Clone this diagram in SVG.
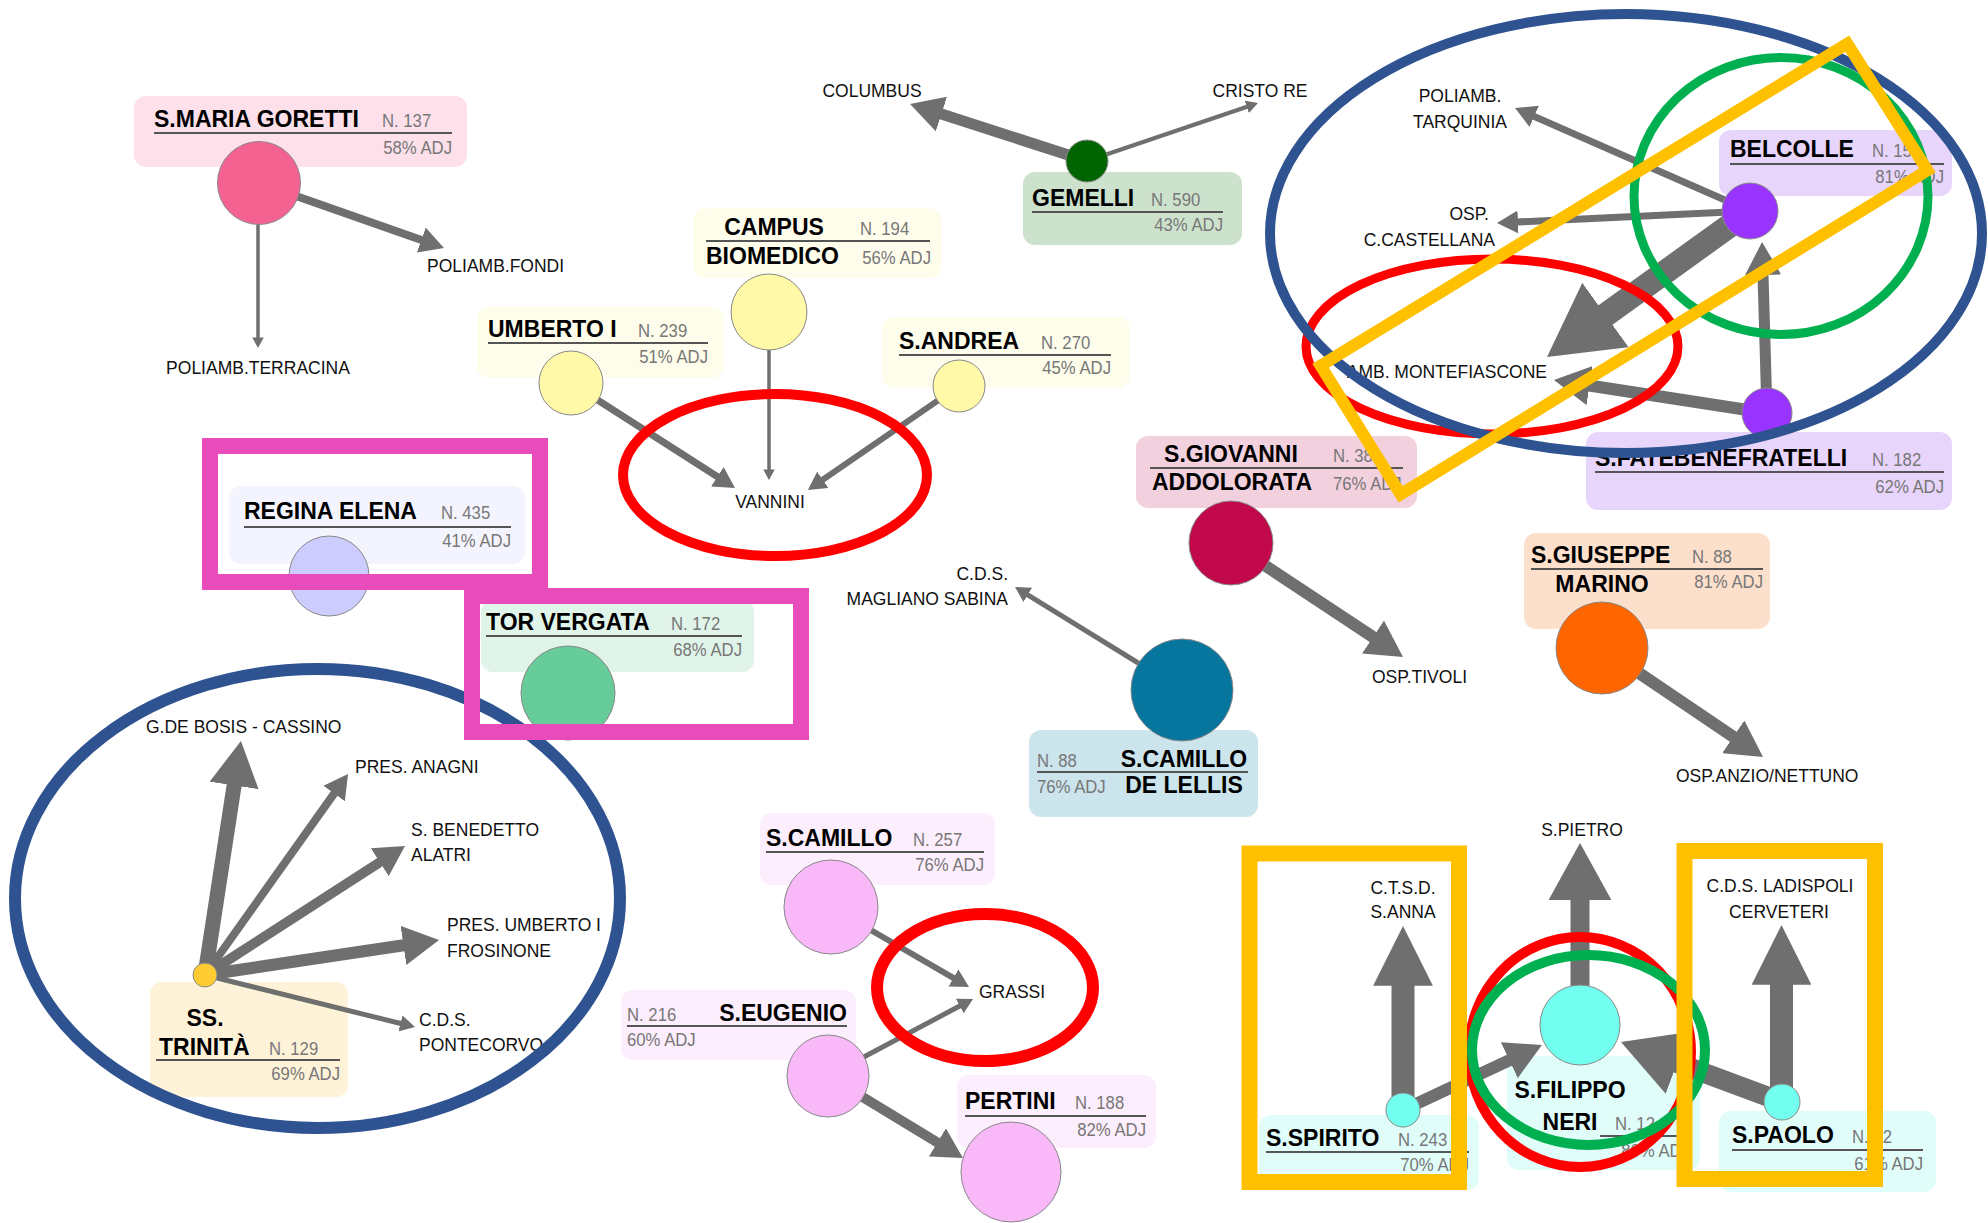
<svg xmlns="http://www.w3.org/2000/svg" width="1988" height="1223" viewBox="0 0 1988 1223">
<style>
.t{font-family:"Liberation Sans",Arial,sans-serif;font-weight:bold;font-size:23px;fill:#000}
.s{font-family:"Liberation Sans",Arial,sans-serif;font-size:19px;fill:#777;transform:scaleX(0.88);transform-box:fill-box;transform-origin:0% 50%}
.s.e{transform-origin:100% 50%}
.d{font-family:"Liberation Sans",Arial,sans-serif;font-size:17.5px;fill:#111}
.m{text-anchor:middle}
.e{text-anchor:end}
.ul{stroke:#555;stroke-width:2}
.nd{stroke:#888;stroke-width:1}
.c{stroke:#6f6f6f;fill:none;marker-end:url(#ah)}
.cb{stroke:#6f6f6f;fill:none;marker-end:url(#ahb)}
.hl{fill:none}
</style>
<defs>
<marker id="ah" viewBox="0 0 10 10" refX="1" refY="5" markerWidth="3" markerHeight="3.3" markerUnits="strokeWidth" orient="auto" preserveAspectRatio="none"><path d="M0,0 L10,5 L0,10 z" fill="#6f6f6f"/></marker>
<marker id="ahb" viewBox="0 0 10 10" refX="1" refY="5" markerWidth="2.6" markerHeight="2.6" markerUnits="strokeWidth" orient="auto" preserveAspectRatio="none"><path d="M0,0 L10,5 L0,10 z" fill="#6f6f6f"/></marker>
</defs>
<rect width="1988" height="1223" fill="#fff"/>

<g id="label-backgrounds">
<rect id="bg-goretti" x="134" y="96" width="333" height="71" rx="12" fill="#fde0ea"/>
<rect id="bg-umberto" x="477" y="307" width="247" height="71" rx="12" fill="#fefdec"/>
<rect id="bg-campus" x="693" y="208" width="248" height="70" rx="12" fill="#fefdec"/>
<rect id="bg-andrea" x="882" y="317" width="248" height="71" rx="12" fill="#fefdec"/>
<rect id="bg-gemelli" x="1023" y="172" width="219" height="73" rx="12" fill="#cde2cd"/>
<rect id="bg-belcolle" x="1719" y="130" width="233" height="66" rx="12" fill="#e8d5fc"/>
<rect id="bg-fatebene" x="1586" y="432" width="366" height="78" rx="12" fill="#e8d5fc"/>
<rect id="bg-regina" x="229" y="486" width="296" height="78" rx="12" fill="#f4f4fe"/>
<rect id="bg-torvergata" x="481" y="600" width="273" height="72" rx="12" fill="#e0f4ea"/>
<rect id="bg-giovanni" x="1136" y="436" width="281" height="72" rx="12" fill="#f2d0dd"/>
<rect id="bg-delellis" x="1029" y="730" width="229" height="87" rx="12" fill="#cce4ec"/>
<rect id="bg-giuseppe" x="1524" y="533" width="246" height="96" rx="12" fill="#fde0cc"/>
<rect id="bg-trinita" x="150" y="982" width="198" height="115" rx="12" fill="#fef3d8"/>
<rect id="bg-scamillo" x="760" y="813" width="235" height="72" rx="12" fill="#fdeefd"/>
<rect id="bg-eugenio" x="621" y="990" width="235" height="70" rx="12" fill="#fdeefd"/>
<rect id="bg-pertini" x="957" y="1075" width="199" height="73" rx="12" fill="#fdeefd"/>
<rect id="bg-filippo" x="1507" y="1056" width="193" height="114" rx="12" fill="#e0fdfa"/>
<rect id="bg-spirito" x="1259" y="1115" width="220" height="75" rx="12" fill="#e0fdfa"/>
<rect id="bg-paolo" x="1719" y="1111" width="217" height="81" rx="12" fill="#e0fdfa"/>
</g>

<g id="connectors">
<line class="c" x1="259" y1="183" x2="423.6" y2="240.8" stroke-width="8"/>
<line class="c" x1="258" y1="183" x2="258" y2="338.5" stroke-width="3.5"/>
<line class="c" x1="1087" y1="161" x2="938.3" y2="113.1" stroke-width="11"/>
<line class="c" x1="1087" y1="161" x2="1247.8" y2="106.5" stroke-width="4"/>
<line class="c" x1="571" y1="383" x2="719.1" y2="477.8" stroke-width="7"/>
<line class="c" x1="769" y1="312" x2="769" y2="470.5" stroke-width="3.5"/>
<line class="c" x1="959" y1="386" x2="821.3" y2="480.8" stroke-width="6"/>
<line class="c" x1="1750" y1="211" x2="1532.3" y2="115.6" stroke-width="7"/>
<line class="c" x1="1750" y1="211" x2="1515.9" y2="222.1" stroke-width="7"/>
<line class="c" x1="1750" y1="211" x2="1599.6" y2="319.2" stroke-width="24"/>
<line class="c" x1="1767" y1="413" x2="1586" y2="385" stroke-width="12"/>
<line class="c" x1="1767" y1="413" x2="1762.9" y2="271.7" stroke-width="11"/>
<line class="c" x1="1231" y1="543" x2="1376" y2="639.1" stroke-width="12"/>
<line class="c" x1="1602" y1="648" x2="1736.2" y2="738.8" stroke-width="12"/>
<line class="c" x1="1182" y1="690" x2="1026.5" y2="594.1" stroke-width="5"/>
<line class="c" x1="205" y1="975" x2="234.8" y2="781" stroke-width="15"/>
<line class="c" x1="205" y1="975" x2="335.5" y2="791.6" stroke-width="8"/>
<line class="c" x1="205" y1="975" x2="382.3" y2="860.6" stroke-width="10"/>
<line class="c" x1="205" y1="975" x2="407" y2="944.8" stroke-width="12"/>
<line class="c" x1="205" y1="975" x2="401.9" y2="1023.8" stroke-width="5"/>
<line class="c" x1="831" y1="907" x2="955" y2="978.9" stroke-width="6"/>
<line class="c" x1="828" y1="1076" x2="961.1" y2="1005.3" stroke-width="5"/>
<line class="c" x1="828" y1="1076" x2="939.9" y2="1144" stroke-width="10"/>
<line class="c" x1="1580" y1="1025" x2="1580" y2="894.3" stroke-width="19"/>
<line class="cb" x1="1403" y1="1110" x2="1403" y2="979.8" stroke-width="23"/>
<line class="c" x1="1403" y1="1110" x2="1512.6" y2="1058.7" stroke-width="12"/>
<line class="cb" x1="1781.5" y1="1102" x2="1781.5" y2="978.8" stroke-width="23"/>
<line class="c" x1="1782" y1="1102" x2="1671.6" y2="1060.8" stroke-width="20"/>
</g>

<g id="destinations">
<text class="d" x="427" y="272">POLIAMB.FONDI</text>
<text class="d m" x="258" y="374">POLIAMB.TERRACINA</text>
<text class="d m" x="872" y="97">COLUMBUS</text>
<text class="d m" x="1260" y="97">CRISTO RE</text>
<text class="d m" x="770" y="508">VANNINI</text>
<text class="d m" x="1460" y="102">POLIAMB.</text>
<text class="d m" x="1460" y="128">TARQUINIA</text>
<text class="d e" x="1489" y="220">OSP.</text>
<text class="d e" x="1495" y="246">C.CASTELLANA</text>
<text class="d e" x="1547" y="378">AMB. MONTEFIASCONE</text>
<text class="d" x="1372" y="683">OSP.TIVOLI</text>
<text class="d e" x="1008" y="580">C.D.S.</text>
<text class="d e" x="1008" y="605">MAGLIANO SABINA</text>
<text class="d" x="1676" y="782">OSP.ANZIO/NETTUNO</text>
<text class="d" x="146" y="733">G.DE BOSIS - CASSINO</text>
<text class="d" x="355" y="773">PRES. ANAGNI</text>
<text class="d" x="411" y="836">S. BENEDETTO</text>
<text class="d" x="411" y="861">ALATRI</text>
<text class="d" x="447" y="931">PRES. UMBERTO I</text>
<text class="d" x="447" y="957">FROSINONE</text>
<text class="d" x="419" y="1026">C.D.S.</text>
<text class="d" x="419" y="1051">PONTECORVO</text>
<text class="d" x="979" y="998">GRASSI</text>
<text class="d m" x="1582" y="836">S.PIETRO</text>
<text class="d m" x="1403" y="894">C.T.S.D.</text>
<text class="d m" x="1403" y="918">S.ANNA</text>
<text class="d m" x="1780" y="892">C.D.S. LADISPOLI</text>
<text class="d m" x="1779" y="918">CERVETERI</text>
</g>

<g id="node-goretti">
<circle class="nd" cx="259" cy="183" r="41.5" fill="#f46291"/>
<text class="t" x="154" y="127">S.MARIA GORETTI</text>
<text class="s" x="382" y="127">N. 137</text>
<line class="ul" x1="154" y1="133" x2="452" y2="133"/>
<text class="s e" x="452" y="154">58% ADJ</text>
</g>

<g id="node-umberto">
<circle class="nd" cx="571" cy="383" r="32" fill="#fff9a8"/>
<text class="t" x="488" y="337">UMBERTO I</text>
<text class="s" x="638" y="337">N. 239</text>
<line class="ul" x1="488" y1="343" x2="708" y2="343"/>
<text class="s e" x="708" y="363">51% ADJ</text>
</g>

<g id="node-campus">
<circle class="nd" cx="769" cy="312" r="38" fill="#fff9a8"/>
<text class="t m" x="774" y="235">CAMPUS</text>
<text class="t" x="706" y="264">BIOMEDICO</text>
<text class="s" x="860" y="235">N. 194</text>
<line class="ul" x1="706" y1="241" x2="930" y2="241"/>
<text class="s e" x="931" y="264">56% ADJ</text>
</g>

<g id="node-andrea">
<circle class="nd" cx="959" cy="386" r="26" fill="#fff9a8"/>
<text class="t" x="899" y="349">S.ANDREA</text>
<text class="s" x="1041" y="349">N. 270</text>
<line class="ul" x1="899" y1="355" x2="1111" y2="355"/>
<text class="s e" x="1111" y="374">45% ADJ</text>
</g>

<g id="node-gemelli">
<circle class="nd" cx="1087" cy="161" r="21" fill="#006400"/>
<text class="t" x="1032" y="206">GEMELLI</text>
<text class="s" x="1151" y="206">N. 590</text>
<line class="ul" x1="1032" y1="212" x2="1223" y2="212"/>
<text class="s e" x="1223" y="231">43% ADJ</text>
</g>

<g id="node-belcolle">
<circle class="nd" cx="1750" cy="211" r="28" fill="#9933ff"/>
<text class="t" x="1730" y="157">BELCOLLE</text>
<text class="s" x="1872" y="157">N. 15</text>
<line class="ul" x1="1730" y1="164" x2="1944" y2="164"/>
<text class="s e" x="1944" y="183">81% ADJ</text>
</g>

<g id="node-fatebenefratelli">
<circle class="nd" cx="1767" cy="413" r="25" fill="#9933ff"/>
<text class="t" x="1595" y="466">S.FATEBENEFRATELLI</text>
<text class="s" x="1872" y="466">N. 182</text>
<line class="ul" x1="1595" y1="472" x2="1944" y2="472"/>
<text class="s e" x="1944" y="493">62% ADJ</text>
</g>

<g id="node-regina">
<circle class="nd" cx="329" cy="576" r="40" fill="#ccccff"/>
<text class="t" x="244" y="519">REGINA ELENA</text>
<text class="s" x="441" y="519">N. 435</text>
<line class="ul" x1="244" y1="527" x2="511" y2="527"/>
<text class="s e" x="511" y="547">41% ADJ</text>
</g>

<g id="node-torvergata">
<circle class="nd" cx="568" cy="693" r="47" fill="#66cc99"/>
<text class="t" x="486" y="630">TOR VERGATA</text>
<text class="s" x="671" y="630">N. 172</text>
<line class="ul" x1="486" y1="636" x2="742" y2="636"/>
<text class="s e" x="742" y="656">68% ADJ</text>
</g>

<g id="node-giovanni">
<circle class="nd" cx="1231" cy="543" r="42" fill="#c0084a"/>
<text class="t m" x="1231" y="462">S.GIOVANNI</text>
<text class="t m" x="1232" y="490">ADDOLORATA</text>
<text class="s" x="1333" y="462">N. 38</text>
<line class="ul" x1="1150" y1="468" x2="1403" y2="468"/>
<text class="s" x="1333" y="490">76% ADJ</text>
</g>

<g id="node-delellis">
<circle class="nd" cx="1182" cy="690" r="51" fill="#07769e"/>
<text class="s" x="1037" y="767">N. 88</text>
<text class="t m" x="1184" y="767">S.CAMILLO</text>
<line class="ul" x1="1037" y1="772" x2="1248" y2="772"/>
<text class="s" x="1037" y="793">76% ADJ</text>
<text class="t m" x="1184" y="793">DE LELLIS</text>
</g>

<g id="node-giuseppe">
<circle class="nd" cx="1602" cy="648" r="46" fill="#ff6600"/>
<text class="t" x="1531" y="563">S.GIUSEPPE</text>
<text class="t m" x="1602" y="592">MARINO</text>
<text class="s" x="1692" y="563">N. 88</text>
<line class="ul" x1="1531" y1="569" x2="1763" y2="569"/>
<text class="s e" x="1763" y="588">81% ADJ</text>
</g>

<g id="node-trinita">
<circle class="nd" cx="205" cy="975" r="12" fill="#ffcc33"/>
<text class="t m" x="205" y="1026">SS.</text>
<text class="t" x="159" y="1055">TRINITÀ</text>
<text class="s" x="269" y="1055">N. 129</text>
<line class="ul" x1="156" y1="1060" x2="340" y2="1060"/>
<text class="s e" x="340" y="1080">69% ADJ</text>
</g>

<g id="node-scamillo">
<circle class="nd" cx="831" cy="907" r="47" fill="#f9b9f9"/>
<text class="t" x="766" y="846">S.CAMILLO</text>
<text class="s" x="913" y="846">N. 257</text>
<line class="ul" x1="766" y1="852" x2="984" y2="852"/>
<text class="s e" x="984" y="871">76% ADJ</text>
</g>

<g id="node-eugenio">
<circle class="nd" cx="828" cy="1076" r="41" fill="#f9b9f9"/>
<text class="s" x="627" y="1021">N. 216</text>
<text class="t e" x="847" y="1021">S.EUGENIO</text>
<line class="ul" x1="627" y1="1026" x2="847" y2="1026"/>
<text class="s" x="627" y="1046">60% ADJ</text>
</g>

<g id="node-pertini">
<circle class="nd" cx="1011" cy="1172" r="50" fill="#f9b9f9"/>
<text class="t" x="965" y="1109">PERTINI</text>
<text class="s" x="1075" y="1109">N. 188</text>
<line class="ul" x1="965" y1="1116" x2="1146" y2="1116"/>
<text class="s e" x="1146" y="1136">82% ADJ</text>
</g>

<g id="node-filippo">
<circle class="nd" cx="1580" cy="1025" r="40" fill="#73fff0"/>
<text class="t m" x="1570" y="1098">S.FILIPPO</text>
<text class="t m" x="1570" y="1130">NERI</text>
<text class="s" x="1615" y="1130">N. 12</text>
<line class="ul" x1="1600" y1="1136" x2="1690" y2="1136"/>
<text class="s e" x="1690" y="1157">80% ADJ</text>
</g>

<g id="node-spirito">
<circle class="nd" cx="1403" cy="1110" r="17" fill="#73fff0"/>
<text class="t" x="1266" y="1146">S.SPIRITO</text>
<text class="s" x="1398" y="1146">N. 243</text>
<line class="ul" x1="1266" y1="1152" x2="1469" y2="1152"/>
<text class="s e" x="1469" y="1171">70% ADJ</text>
</g>

<g id="node-paolo">
<circle class="nd" cx="1782" cy="1102" r="18" fill="#73fff0"/>
<text class="t" x="1732" y="1143">S.PAOLO</text>
<text class="s" x="1852" y="1143">N. 82</text>
<line class="ul" x1="1732" y1="1150" x2="1923" y2="1150"/>
<text class="s e" x="1923" y="1170">61% ADJ</text>
</g>

<g id="highlights">
<ellipse class="hl" cx="775" cy="475" rx="152" ry="81" stroke="#ff0000" stroke-width="10"/>
<ellipse class="hl" cx="1492" cy="346.5" rx="186" ry="87.5" stroke="#ff0000" stroke-width="9"/>
<ellipse class="hl" cx="1626" cy="233.5" rx="356" ry="219.5" stroke="#2f5390" stroke-width="10"/>
<ellipse class="hl" cx="1781" cy="196" rx="147" ry="138.5" stroke="#00b050" stroke-width="9"/>
<polygon class="hl" points="1847.3,43.7 1927.4,170.4 1400.6,494.3 1320.6,365.6" stroke="#ffc000" stroke-width="12"/>
<ellipse class="hl" cx="317.5" cy="898.5" rx="302.5" ry="229.5" stroke="#2f5390" stroke-width="12"/>
<rect class="hl" x="210" y="446" width="330" height="136" stroke="#e84bba" stroke-width="16"/>
<rect class="hl" x="472" y="596" width="329" height="136" stroke="#e84bba" stroke-width="16"/>
<ellipse class="hl" cx="985" cy="987.5" rx="108" ry="73.5" stroke="#ff0000" stroke-width="12"/>
<ellipse class="hl" cx="1580" cy="1052" rx="111" ry="115" stroke="#ff0000" stroke-width="10"/>
<ellipse class="hl" cx="1588.5" cy="1050" rx="116.5" ry="95" stroke="#00b050" stroke-width="10"/>
<rect class="hl" x="1249.5" y="853.5" width="209.5" height="328.5" stroke="#ffc000" stroke-width="16"/>
<rect class="hl" x="1684.5" y="851" width="190.5" height="328" stroke="#ffc000" stroke-width="16"/>
</g>
</svg>
